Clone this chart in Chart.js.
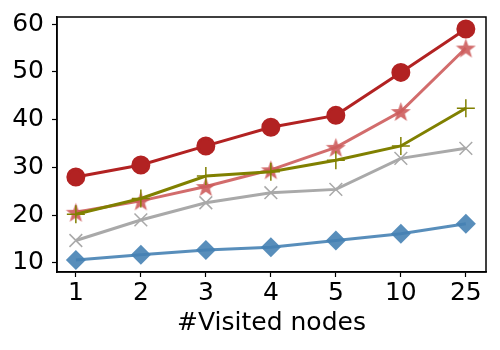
<!DOCTYPE html>
<html>
<head>
<meta charset="utf-8">
<script src="https://cdn.jsdelivr.net/npm/chart.js@4/dist/chart.umd.min.js"></script>
<style>
  html, body { margin: 0; padding: 0; background: #fff; }
</style>
</head>
<body>
<canvas id="chart" width="500" height="350"></canvas>
<script>
// x categories
var visitedNodes = ['1', '2', '3', '4', '5', '10', '25'];

// series values
var circleVals = [28, 30.5, 34.5, 38.4, 40.9, 49.9, 59];
var starVals = [20.6, 23, 26, 29.5, 34.2, 41.7, 55];
var plusVals = [20.2, 23.5, 28.2, 29.1, 31.5, 34.5, 42.4];
var crossVals = [14.7, 19, 22.6, 24.7, 25.4, 31.9, 34];
var diamondVals = [10.6, 11.7, 12.7, 13.3, 14.7, 16.1, 18.2];

var yTicks = [10, 20, 30, 40, 50, 60];

function pts(vals) {
    return vals.map(function (v, i) { return {x: i, y: v}; });
}

// filled five point star, chart.js has no such marker
function makeStar(size, color) {
    var c = document.createElement('canvas');
    c.width = size; c.height = size;
    var g = c.getContext('2d');
    var cx = size / 2, cy = size / 2 + 1;
    var ro = size / 2, ri = ro * 0.4;
    g.beginPath();
    for (var i = 0; i < 10; i++) {
        var r = i % 2 ? ri : ro;
        var a = -Math.PI / 2 + i * Math.PI / 5;
        g.lineTo(cx + r * Math.cos(a), cy + r * Math.sin(a));
    }
    g.closePath();
    g.fillStyle = color;
    g.fill();
    return c;
}

var boxPlugin = {
    id: 'box',
    afterDraw: function (chart) {
        var a = chart.chartArea, ctx = chart.ctx;
        ctx.save();
        ctx.strokeStyle = '#000';
        ctx.lineWidth = 1.5;
        ctx.strokeRect(a.left, a.top, a.right - a.left, a.bottom - a.top);
        ctx.restore();
    }
};

var tickFont = {family: 'DejaVu Sans', size: 25};

new Chart(document.getElementById('chart').getContext('2d'), {
    type: 'line',
    data: {
        datasets: [{
            data: pts(circleVals),
            borderColor: '#b22222',
            backgroundColor: '#b22222',
            pointStyle: 'circle',
            pointRadius: 8,
            borderWidth: 3
        }, {
            data: pts(plusVals),
            borderColor: '#808000',
            backgroundColor: '#808000',
            pointStyle: 'cross',
            pointRadius: 9,
            pointBorderWidth: 1.5,
            borderWidth: 3
        }, {
            data: pts(starVals),
            borderColor: 'rgba(205,92,92,0.9)',
            backgroundColor: 'rgba(205,92,92,0.9)',
            pointStyle: makeStar(21, 'rgba(205,92,92,0.9)'),
            borderWidth: 3
        }, {
            data: pts(crossVals),
            borderColor: '#a9a9a9',
            backgroundColor: '#a9a9a9',
            pointStyle: 'crossRot',
            pointRadius: 9,
            pointBorderWidth: 1.5,
            borderWidth: 3
        }, {
            data: pts(diamondVals),
            borderColor: 'rgba(70,130,180,0.9)',
            backgroundColor: 'rgba(70,130,180,0.9)',
            pointStyle: 'rectRot',
            pointRadius: 10,
            pointBorderWidth: 0,
            borderWidth: 3
        }]
    },
    options: {
        responsive: false,
        animation: false,
        layout: {padding: {left: 0, right: 14, top: 17, bottom: 0}},
        plugins: {legend: {display: false}, tooltip: {enabled: false}},
        scales: {
            x: {
                type: 'linear',
                min: -0.29,
                max: 6.31,
                afterBuildTicks: function (s) {
                    s.ticks = visitedNodes.map(function (_, i) { return {value: i}; });
                },
                afterFit: function (s) {
                    s.height = 78;
                    s.paddingLeft = 0;
                    s.paddingRight = 0;
                },
                ticks: {
                    color: '#000',
                    font: tickFont,
                    padding: 1,
                    maxRotation: 0,
                    callback: function (v) { return visitedNodes[v]; }
                },
                grid: {drawOnChartArea: false, drawTicks: true, tickLength: 5, color: '#000', tickWidth: 1.2},
                border: {display: true, color: '#000', width: 1.5},
                title: {
                    display: true,
                    text: '#Visited nodes',
                    color: '#000',
                    font: tickFont,
                    padding: {top: 0, bottom: 12}
                }
            },
            y: {
                min: 8.1,
                max: 61.5,
                afterBuildTicks: function (s) {
                    s.ticks = yTicks.map(function (v) { return {value: v}; });
                },
                afterFit: function (s) {
                    s.width = 57;
                    s.paddingTop = 0;
                    s.paddingBottom = 0;
                },
                ticks: {color: '#000', font: tickFont, padding: 8},
                grid: {drawOnChartArea: false, drawTicks: true, tickLength: 5, color: '#000', tickWidth: 1.2},
                border: {display: true, color: '#000', width: 1.5}
            }
        }
    },
    plugins: [boxPlugin]
});
</script>
</body>
</html>
